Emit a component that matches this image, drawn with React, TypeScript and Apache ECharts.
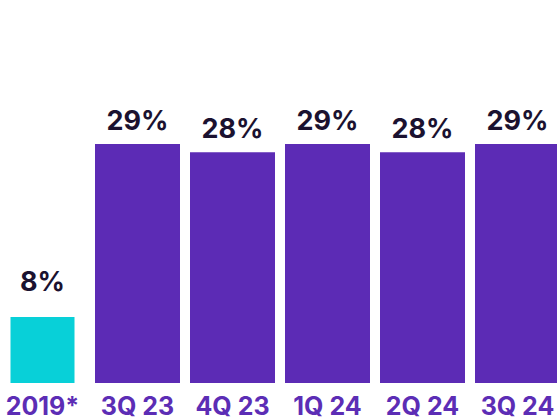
import React, { useEffect, useRef } from "react";
import * as echarts from "echarts";

const categories = ["2019*", "3Q 23", "4Q 23", "1Q 24", "2Q 24", "3Q 24"];
const baselineValues = [8, null, null, null, null, null];
const quarterValues = [null, 29, 28, 29, 28, 29];

export default function App() {
  const ref = useRef<HTMLDivElement>(null);
  useEffect(() => {
    if (!ref.current) return;
    const chart = echarts.init(ref.current, null, { renderer: "svg" });
    const labelStyle = {
      show: true,
      position: "top" as const,
      formatter: (p: any) => `${p.value}%`,
      fontFamily: "Inter",
      fontWeight: 700,
      fontSize: 27,
      color: "#1b1230",
    };
    chart.setOption({
      animation: false,
      grid: { left: 0, right: 0, top: 53.5, bottom: 34.5, containLabel: false },
      xAxis: [
        {
          type: "category",
          data: categories,
          axisLine: { show: false },
          axisTick: { show: false },
          axisLabel: {
            fontFamily: "Inter",
            fontWeight: 700,
            fontSize: 25,
            lineHeight: 23,
            color: "#5c2db5",
            margin: 11,
            interval: 0,
          },
        },
        {
          type: "category",
          data: categories,
          show: false,
          position: "bottom",
        },
      ],
      yAxis: { type: "value", min: 0, max: 40, show: false, splitLine: { show: false } },
      series: [
        {
          type: "bar",
          xAxisIndex: 1,
          data: baselineValues,
          barWidth: 64,
          itemStyle: { color: "#08d0d8" },
          label: { ...labelStyle, distance: 22 },
        },
        {
          type: "bar",
          xAxisIndex: 0,
          data: quarterValues,
          barWidth: 85,
          itemStyle: { color: "#5c2bb5" },
          label: { ...labelStyle, distance: 10 },
        },
      ],
    });
    return () => chart.dispose();
  }, []);
  return (
    <div style={{ position: "absolute", left: 0, top: 0, width: 557, height: 418, overflow: "hidden" }}>
      <div ref={ref} style={{ width: 570, height: 418, position: "absolute", left: -5, top: 0 }} />
    </div>
  );
}
